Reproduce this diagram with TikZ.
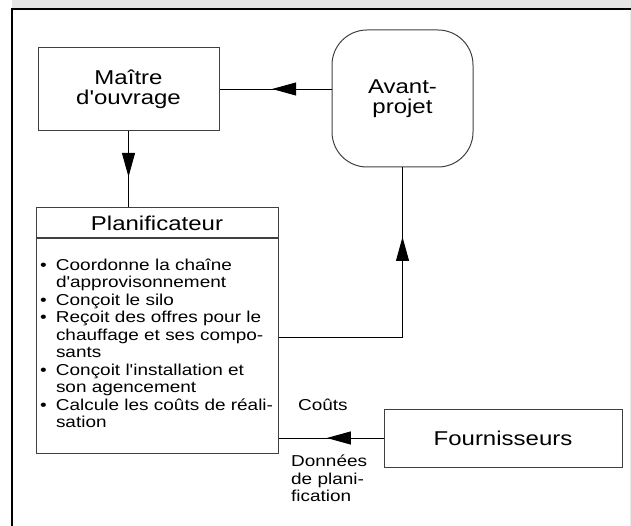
\documentclass[tikz,border=0pt]{standalone}
\usepackage{fontspec}
\setmainfont{Liberation Sans}[FakeStretch=1.2,Ligatures=TeXOff]
\usetikzlibrary{arrows.meta,positioning,decorations.markings}

\newcommand{\bigtext}{\fontsize{20}{20}\selectfont}
\newcommand{\smalltext}{\fontsize{15.8}{17.5}\selectfont}
\newcommand{\itm}{\makebox[18pt][l]{\hspace{2pt}\textbullet}}
\newcommand{\cnt}{\hspace*{18pt}}

\begin{document}
\begin{tikzpicture}[x=1pt,y=-1pt,
  box/.style={draw=black!75,line width=1pt,inner sep=0pt,align=center,font=\bigtext},
  conn/.style={line width=0.9pt},
  midarrow/.style={postaction={decorate},decoration={markings,
    mark=at position #1 with {\arrow{Triangle[length=24pt,width=13pt]}}}}]
\useasboundingbox (0,0) rectangle (631,526);
% frame
\fill[black!10] (12,0) rectangle (631,9);
\draw[black!8] (630.5,9) -- (630.5,526);
\draw[line width=1.5pt] (12,526) -- (12,9) -- (631,9);
% boxes
\node[box,minimum width=181pt,minimum height=83pt] (maitre) at (128.5,89) {Maître\\d'ouvrage};
\node[box,rounded corners=35pt,minimum width=141pt,minimum height=137pt] (avant) at (402.5,98.5) {Avant-\\projet};
\node[box,minimum width=242pt,minimum height=30pt] (planif) at (157,223) {Planificateur};
\node[box,minimum width=242pt,minimum height=214pt,text width=238pt,align=left,font=\smalltext,below=0pt of planif] (taches) {%
\itm Coordonne la chaîne\\
\cnt d'approvisonnement\\
\itm Conçoit le silo\\
\itm Reçoit des offres pour le\\
\cnt chauffage et ses compo-\\
\cnt sants\\
\itm Conçoit l'installation et\\
\cnt son agencement\\
\itm Calcule les coûts de réali-\\
\cnt sation\rule[-6pt]{0pt}{6pt}};
\node[box,minimum width=238pt,minimum height=58pt] (fourn) at (503,438) {Fournisseurs};
% labels
\node[font=\smalltext,anchor=base west,inner sep=0pt] (couts) at (298,410) {Coûts};
\node[font=\smalltext,anchor=north west,align=left,inner sep=0pt] (donnees) at (291,455) {Données\\de plani-\\fication};
% connectors
\coordinate (knick) at (402.5,337);
\draw[conn,midarrow=0.53] (avant.west |- maitre.east) -- (maitre.east);
\draw[conn,midarrow=0.6] (maitre.south) -- (maitre.south |- planif.north);
\draw[conn] (knick -| taches.east) -- (knick);
\draw[conn,midarrow=0.59] (knick) -- (avant.south);
\draw[conn,midarrow=0.54] (fourn.west) -- (fourn.west -| taches.east);
\end{tikzpicture}
\end{document}
